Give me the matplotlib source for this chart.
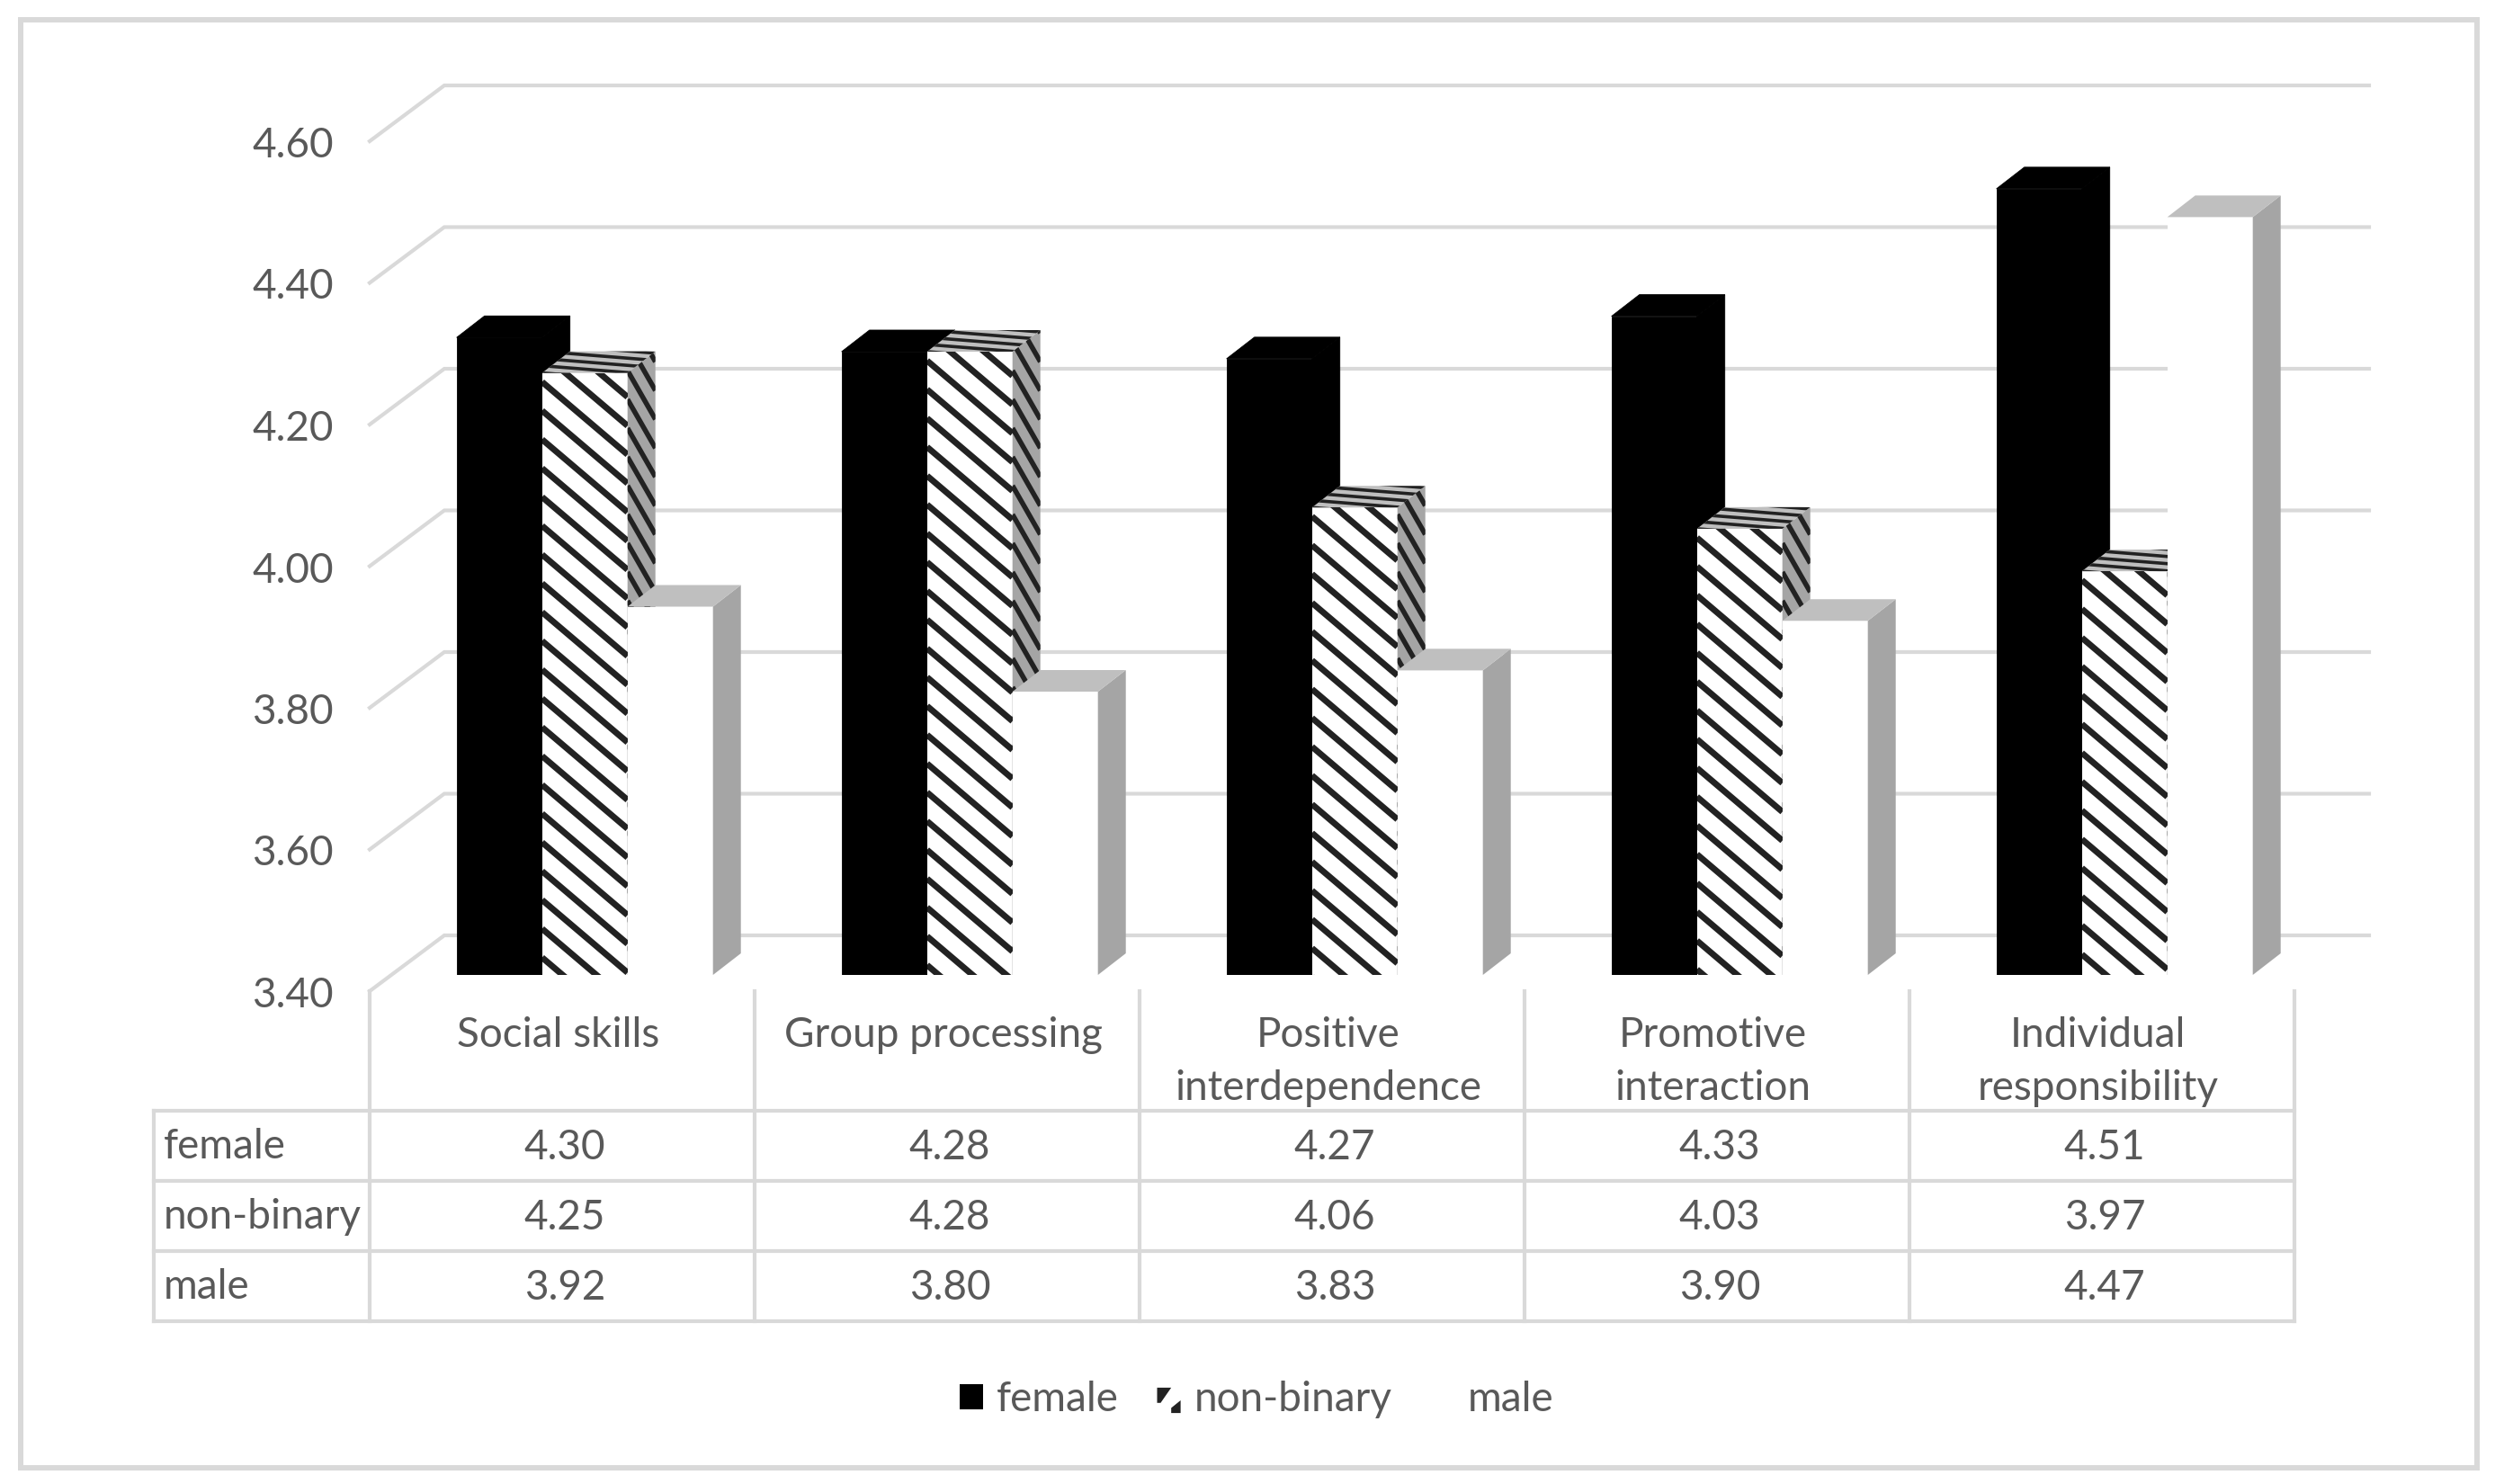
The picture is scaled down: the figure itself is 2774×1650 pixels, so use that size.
import numpy as np
import matplotlib
matplotlib.use("Agg")
import matplotlib.pyplot as plt
from matplotlib.collections import LineCollection
from matplotlib.legend_handler import HandlerBase
from matplotlib.patches import Patch, Polygon, Rectangle
from matplotlib.transforms import ScaledTranslation

# data
categories = ["Social skills", "Group processing", "Positive\ninterdependence",
              "Promotive\ninteraction", "Individual\nresponsibility"]
series_names = ["female", "non-binary", "male"]
female = [4.30, 4.28, 4.27, 4.33, 4.51]
non_binary = [4.25, 4.28, 4.06, 4.03, 3.97]
male = [3.92, 3.80, 3.83, 3.90, 4.47]
y_ticks = [3.40, 3.60, 3.80, 4.00, 4.20, 4.40, 4.60]

W, H = 2774, 1650
GREY = "#D9D9D9"
TEXT = "#595959"
DARK = "#222222"
SIDE = "#A5A5A5"
TOP = "#BFBFBF"
FS = 33

plt.rcParams["font.family"] = ["Lato", "DejaVu Sans"]

fig = plt.figure(figsize=(W / 100, H / 100), dpi=100, facecolor="white")

# overlay in pixel units for border and table
bg = fig.add_axes([0, 0, 1, 1])
bg.set_xlim(0, W)
bg.set_ylim(H, 0)
bg.axis("off")

# main axes: x = category number, y = value, on the front plane of the bars
X0, CELL = 411, 428
Y_BASE, PER_UNIT = 1084, 787.5
ax_top = Y_BASE - 1.2 * PER_UNIT
ax = fig.add_axes([X0 / W, 1 - Y_BASE / H, 5 * CELL / W, (Y_BASE - ax_top) / H])
ax.patch.set_alpha(0)
ax.set_xlim(0, 5)
ax.set_ylim(3.4, 4.6)
for s in ax.spines.values():
    s.set_visible(False)

# one pixel in data units
px = 1 / CELL
py = 1 / PER_UNIT

# gridlines on the back wall and the diagonal on the side wall
back_dx, back_dy = 83 * px, 44 * py
front_dy = -18 * py
for v in y_ticks:
    ax.plot([0, back_dx, 5 + back_dx], [v + front_dy, v + back_dy, v + back_dy],
            color=GREY, lw=3, clip_on=False, zorder=1, solid_joinstyle="miter")


def stripes(patch, x0, x1, y0, y1, slope, spacing, lw=5, phase=0):
    # slope is pixels down per pixel right, spacing is vertical pixels
    rise = slope * (x1 - x0) / px * py
    offs = np.arange(y0 + phase * py, y1 + rise + spacing * py, spacing * py)
    segs = [[(x0, c), (x1, c - rise)] for c in offs]
    lc = LineCollection(segs, colors=DARK, linewidths=lw, zorder=patch.get_zorder())
    ax.add_collection(lc, autolim=False)
    lc.set_clip_path(patch)


depth_x, depth_y = 31 * px, 24 * py
bar_w = 95 * px
start = 96.7 * px
cols = ["black", "white", "white"]
side_cols = ["black", SIDE, SIDE]
top_cols = ["black", TOP, TOP]

z = 2
for j, values in enumerate([female, non_binary, male]):
    xs = np.arange(5) + start + j * bar_w
    # black bars get an edge so no seam shows between the faces
    edge = "black" if j == 0 else "none"
    for x, v in zip(xs, values):
        front = ax.bar(x, v - 3.4, bar_w, bottom=3.4, align="edge", color=cols[j],
                       edgecolor=edge, linewidth=0.6, zorder=z)[0]
        side = Polygon([(x + bar_w, 3.4), (x + bar_w + depth_x, 3.4 + depth_y),
                        (x + bar_w + depth_x, v + depth_y), (x + bar_w, v)],
                       facecolor=side_cols[j], edgecolor=edge, linewidth=0.6, zorder=z)
        top = Polygon([(x, v), (x + depth_x, v + depth_y),
                       (x + bar_w + depth_x, v + depth_y), (x + bar_w, v)],
                      facecolor=top_cols[j], edgecolor=edge, linewidth=0.6, zorder=z)
        ax.add_patch(side)
        ax.add_patch(top)
        if j == 1:
            stripes(front, x, x + bar_w, 3.4, v, 0.85, 32, phase=(v - 3.4) * PER_UNIT % 32 - 10)
            stripes(side, x + bar_w, x + bar_w + depth_x, 3.4, v + depth_y, 1.75, 32, lw=4)
            stripes(top, x, x + bar_w + depth_x, v, v + depth_y, 0.08, 8, lw=2.6)
        z += 1

# axis labels, tick labels sit on the front plane
ax.set_yticks(y_ticks, [f"{v:.2f}" for v in y_ticks], fontsize=FS, color=TEXT)
ax.tick_params(axis="y", length=0, pad=29)
shift = ScaledTranslation(0, -0.19, fig.dpi_scale_trans)
for lab in ax.get_yticklabels():
    lab.set_transform(lab.get_transform() + shift)
ax.set_xticks(np.arange(5) + 0.49, categories, fontsize=FS, color=TEXT, linespacing=1.5)
ax.tick_params(axis="x", length=0, pad=33)

# table under the chart
bg.add_patch(Rectangle((23, 22), 2731, 1610, fill=False, edgecolor=GREY, lw=4.3))
rows_y = [1235, 1313, 1391, 1469]
for y in rows_y:
    bg.plot([171, X0 + 5 * CELL], [y, y], color=GREY, lw=3, solid_capstyle="projecting")
bg.plot([171, 171], [rows_y[0], rows_y[-1]], color=GREY, lw=3, solid_capstyle="projecting")
for i in range(6):
    bg.plot([X0 + i * CELL] * 2, [1102, rows_y[-1]], color=GREY, lw=3)

for r, (name, values) in enumerate(zip(series_names, [female, non_binary, male])):
    yc = (rows_y[r] + rows_y[r + 1]) / 2
    bg.text(182, yc + 1, name, fontsize=FS, color=TEXT, ha="left", va="center")
    for i, v in enumerate(values):
        bg.text(X0 + (i + 0.5) * CELL + 3, yc + 2, f"{v:.2f}", fontsize=FS, color=TEXT,
                ha="center", va="center")


class StripedKey(HandlerBase):
    # the small non-binary key shows two dark corners of the stripe pattern
    def create_artists(self, legend, orig, x0, y0, width, height, fontsize, trans):
        a = Polygon([(x0, y0 + 0.4 * height), (x0, y0 + height), (x0 + 0.6 * width, y0 + height),
                     (x0 + 0.15 * width, y0 + 0.4 * height)], facecolor=DARK, transform=trans)
        b = Polygon([(x0 + 0.6 * width, y0), (x0 + width, y0), (x0 + width, y0 + 0.5 * height),
                     (x0 + 0.6 * width, y0 + 0.2 * height)], facecolor=DARK, transform=trans)
        return [a, b]


# legend
handles = [Patch(facecolor="black", edgecolor="none"),
           Patch(facecolor="white", edgecolor="none"),
           Patch(facecolor="white", edgecolor="none")]
fig.legend(handles, series_names, loc="center", bbox_to_anchor=(1397 / W, 1 - 1556 / H),
           ncols=3, frameon=False, fontsize=FS, labelcolor=TEXT, borderpad=0,
           handlelength=0.57, handleheight=0.57, handletextpad=0.33, columnspacing=0.93,
           handler_map={handles[1]: StripedKey()})

fig.savefig("out.png", dpi=100, facecolor="white")
